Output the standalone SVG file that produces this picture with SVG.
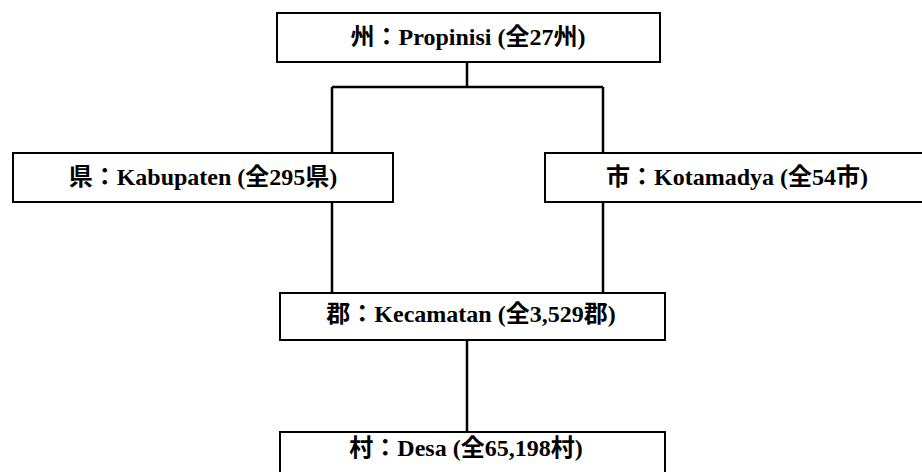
<svg xmlns="http://www.w3.org/2000/svg" width="922" height="472" viewBox="0 0 922 472">
  <style>
    .box { fill: #ffffff; stroke: #000000; stroke-width: 2; }
    .lbl { font-family: "Liberation Serif", "Noto Sans CJK JP", serif; font-size: 24px; font-weight: bold; fill: #000000; text-anchor: middle; }
    .wire { fill: none; stroke: #000000; stroke-width: 2.5; }
  </style>
  <rect width="922" height="472" fill="#ffffff"/>

  <!-- connectors -->
  <g id="connectors">
    <path class="wire" d="M467,62 V87 M332,87 H603 M332,87 V153 M603,87 V153"/>
    <path class="wire" d="M332,202 V293 M603,202 V293"/>
    <path class="wire" d="M467,340 V432"/>
  </g>

  <!-- province -->
  <g id="node-propinsi">
    <rect class="box" x="277" y="13" width="383" height="49"/>
    <text class="lbl" x="468" y="45">州：Propinisi (全27州)</text>
  </g>

  <!-- regency -->
  <g id="node-kabupaten">
    <rect class="box" x="13" y="153" width="380" height="49"/>
    <text class="lbl" x="203" y="185">県：Kabupaten (全295県)</text>
  </g>

  <!-- municipality -->
  <g id="node-kotamadya">
    <rect class="box" x="545" y="153" width="385" height="49"/>
    <text class="lbl" x="737" y="185">市：Kotamadya (全54市)</text>
  </g>

  <!-- district -->
  <g id="node-kecamatan">
    <rect class="box" x="280" y="293" width="385" height="47"/>
    <text class="lbl" x="471" y="322">郡：Kecamatan (全3,529郡)</text>
  </g>

  <!-- village -->
  <g id="node-desa">
    <rect class="box" x="280" y="432" width="385" height="60"/>
    <text class="lbl" x="466" y="456">村：Desa (全65,198村)</text>
  </g>
</svg>
